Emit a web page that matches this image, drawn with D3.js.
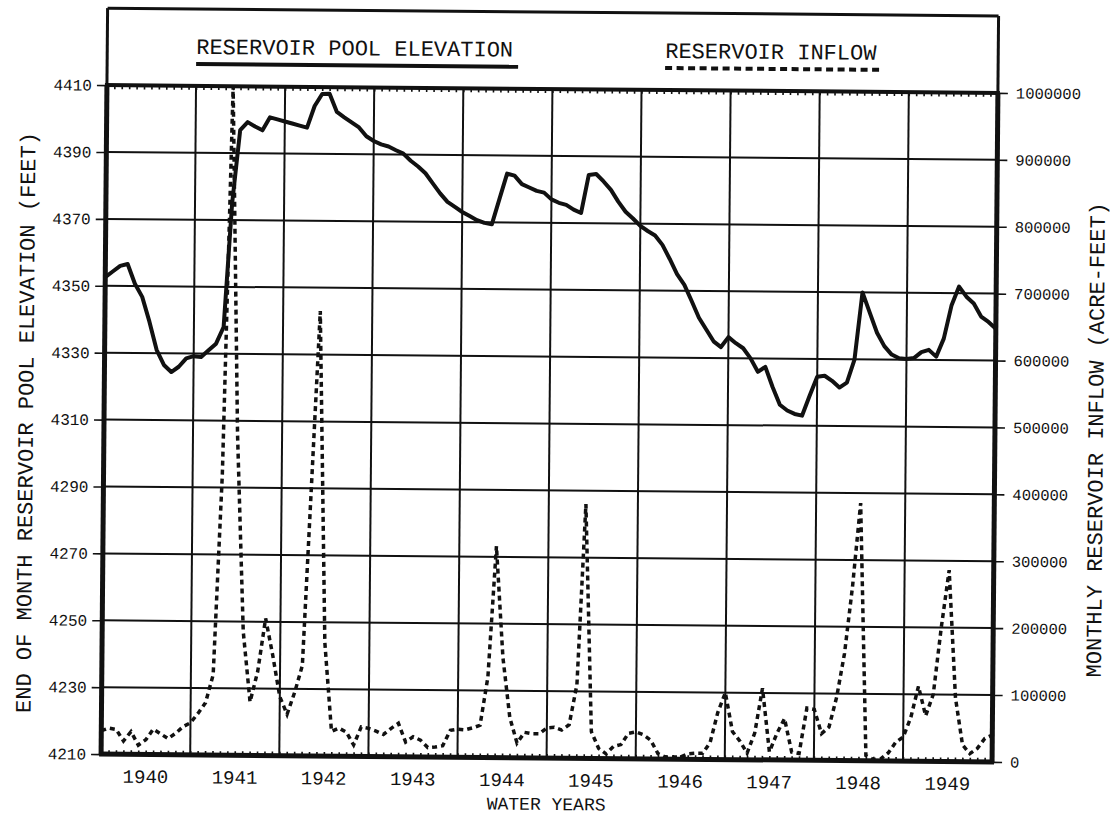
<!DOCTYPE html>
<html>
<head>
<meta charset="utf-8">
<script src="https://cdn.jsdelivr.net/npm/d3@7"></script>
<style>
  html, body { margin: 0; padding: 0; background: #fff; }
  svg { display: block; }
  text { font-family: "Liberation Mono", "DejaVu Sans Mono", monospace; fill: #111; }
</style>
</head>
<body>
<svg id="chart" width="1114" height="830"></svg>
<script>
// Water years shown along the bottom axis (Oct–Sep)
const waterYears = ["1940", "1941", "1942", "1943", "1944", "1945", "1946", "1947", "1948", "1949"];

// Left axis: end-of-month pool elevation (feet)
const elevTicks = [4210, 4230, 4250, 4270, 4290, 4310, 4330, 4350, 4370, 4390, 4410];

// Right axis: monthly inflow (acre-feet)
const inflowTicks = [0, 100000, 200000, 300000, 400000, 500000, 600000, 700000, 800000, 900000, 1000000];

// End-of-month reservoir pool elevation, month 0 = start of WY 1940 .. month 120 = end of WY 1949
const poolElevation = [
  4352.6, 4354.3, 4356.0, 4356.6, 4350.7, 4346.8, 4339.4, 4331.0, 4326.5, 4324.4, 4326.0, 4328.5,
  4329.2, 4329.0, 4331.0, 4333.0, 4338.0, 4375.0, 4396.9, 4399.3, 4398.0, 4396.9, 4400.8, 4400.2,
  4399.6, 4399.0, 4398.4, 4397.8, 4404.3, 4407.9, 4408.0, 4402.6, 4401.0, 4399.5, 4398.0, 4395.4,
  4394.0, 4393.0, 4392.4, 4391.3, 4390.3, 4388.2, 4386.5, 4384.5, 4381.5, 4378.5, 4376.0, 4374.5,
  4373.0, 4371.8, 4370.6, 4369.8, 4369.4, 4377.0, 4384.6, 4384.0, 4381.5, 4380.5, 4379.5, 4379.0,
  4377.0, 4376.0, 4375.4, 4374.0, 4373.0, 4384.4, 4384.7, 4382.5, 4380.0, 4376.5, 4373.5, 4371.5,
  4369.3, 4367.8, 4366.5, 4363.7, 4359.5, 4355.0, 4351.8, 4347.0, 4342.0, 4338.5, 4335.0, 4333.3,
  4336.3, 4334.5, 4333.0, 4330.0, 4326.0, 4327.5, 4321.5, 4316.2, 4314.5, 4313.5, 4313.0, 4319.0,
  4324.7, 4325.0, 4323.5, 4321.5, 4323.0, 4329.9, 4350.0, 4344.0, 4338.0, 4334.0, 4331.5, 4330.4,
  4330.2, 4330.5, 4332.3, 4333.0, 4331.0, 4336.4, 4346.3, 4352.0, 4349.0, 4347.0, 4343.1, 4341.5,
  4339.5
];

// Monthly reservoir inflow (acre-feet), same month positions
const reservoirInflow = [
   35000,  39000,  37000,  20000,  34000,  14000,  22000,  38000,  31000,  24000,  32000,  42000,
   48000,  62000,  78000, 120000, 420000, 1000000, 480000, 185000,  80000, 126000, 205000, 150000,
   88000,  62000,  95000, 135000, 400000, 665000, 170000,  37000,  42000,  36000,  17000,  44000,
   42000,  38000,  33000,  42000,  50000,  22000,  30000,  25000,  14000,  15000,  17000,  40000,
   42000,  41000,  44000,  48000, 120000, 316000, 150000,  60000,  22000,  38000,  36000,  36000,
   45000,  46000,  42000,  50000, 110000, 380000,  40000,  15000,   7000,  18000,  21000,  38000,
   40000,  36000,  28000,   8000,   3000,   3000,   3000,   8000,   9000,   9000,  25000,  70000,
  100000,  42000,  28000,  10000,  40000, 107000,  12000,  40000,  62000,  12000,  10000,  78000,
   76000,  40000,  50000,  95000, 160000, 260000, 385000,   8000,   2000,   3000,  12000,  28000,
   36000,  65000, 112000,  68000, 100000, 200000, 286000,  95000,  25000,  12000,  20000,  35000,
   40000
];

const W = 1114, H = 830;
const X0 = 104, X1 = 995, Y0 = 89, Y1 = 758, BOX_TOP = 12;
const INK = "#111";
const FONT = "Liberation Mono, DejaVu Sans Mono, monospace";

const svg = d3.select("#chart");
svg.append("rect").attr("width", W).attr("height", H).attr("fill", "#fff");

// the whole sheet sits at a slight tilt
const g = svg.append("g").attr("transform", "rotate(0.5, 549, 423)");

const x = d3.scaleLinear().domain([0, 120]).range([X0, X1]);
const xYear = d3.scaleBand().domain(waterYears).range([X0, X1]);
const yElev = d3.scaleLinear().domain([4210, 4410]).range([Y1, Y0]);
const yFlow = d3.scaleLinear().domain([0, 1000000]).range([Y1, Y0]);

// grid
g.append("g").selectAll("line")
  .data(elevTicks.slice(1, -1)).join("line")
  .attr("x1", X0).attr("x2", X1)
  .attr("y1", d => yElev(d)).attr("y2", d => yElev(d))
  .attr("stroke", INK).attr("stroke-width", 2);

g.append("g").selectAll("line")
  .data(waterYears.slice(1)).join("line")
  .attr("x1", d => xYear(d)).attr("x2", d => xYear(d))
  .attr("y1", Y0).attr("y2", Y1)
  .attr("stroke", INK).attr("stroke-width", 2);

// monthly minor ticks along the top and bottom borders
const months = d3.range(1, 120);
const topTicks = g.append("g").attr("transform", `translate(0,${Y0})`)
  .call(d3.axisBottom(x).tickValues(months).tickSize(4).tickFormat(""));
const botTicks = g.append("g").attr("transform", `translate(0,${Y1})`)
  .call(d3.axisTop(x).tickValues(months).tickSize(4).tickFormat(""));
[topTicks, botTicks].forEach(a => {
  a.select(".domain").remove();
  a.selectAll("line").attr("stroke", INK).attr("stroke-width", 1.6);
});

// left axis
const leftAxis = g.append("g").attr("transform", `translate(${X0},0)`)
  .call(d3.axisLeft(yElev).tickValues(elevTicks).tickSize(10).tickPadding(5).tickFormat(d3.format("d")));
leftAxis.select(".domain").remove();
leftAxis.selectAll("line").attr("stroke", INK).attr("stroke-width", 1.6);
leftAxis.selectAll("text").attr("font-size", 16).attr("fill", INK).attr("font-family", FONT);

// right axis
const rightAxis = g.append("g").attr("transform", `translate(${X1},0)`)
  .call(d3.axisRight(yFlow).tickValues(inflowTicks).tickSize(10).tickPadding(8).tickFormat(d3.format("d")));
rightAxis.select(".domain").remove();
rightAxis.selectAll("line").attr("stroke", INK).attr("stroke-width", 1.6);
rightAxis.selectAll("text").attr("font-size", 15.5).attr("fill", INK).attr("font-family", FONT);

// year labels
const bottomAxis = g.append("g").attr("transform", `translate(0,${Y1})`)
  .call(d3.axisBottom(xYear).tickSize(0).tickPadding(15));
bottomAxis.select(".domain").remove();
bottomAxis.selectAll("text").attr("font-size", 19).attr("fill", INK).attr("font-family", FONT);

// data lines, clipped to the plot area
svg.append("defs").append("clipPath").attr("id", "plot-clip")
  .append("rect").attr("x", X0).attr("y", Y0).attr("width", X1 - X0).attr("height", Y1 - Y0);
const plot = g.append("g").attr("clip-path", "url(#plot-clip)");

const flowLine = d3.line().x((d, i) => x(i)).y(d => yFlow(d));
plot.append("path").datum(reservoirInflow)
  .attr("d", flowLine).attr("fill", "none")
  .attr("stroke", INK).attr("stroke-width", 3.5)
  .attr("stroke-dasharray", "5,4");

const elevLine = d3.line().x((d, i) => x(i)).y(d => yElev(d));
plot.append("path").datum(poolElevation)
  .attr("d", elevLine).attr("fill", "none")
  .attr("stroke", INK).attr("stroke-width", 4)
  .attr("stroke-linejoin", "round");

// frame: legend box above, heavy border around the plot
const frame = g.append("g").attr("stroke", INK).attr("fill", "none");
frame.append("line").attr("x1", X0).attr("x2", X1).attr("y1", BOX_TOP).attr("y2", BOX_TOP).attr("stroke-width", 3);
frame.append("line").attr("x1", X0).attr("x2", X0).attr("y1", BOX_TOP).attr("y2", Y0).attr("stroke-width", 3);
frame.append("line").attr("x1", X1).attr("x2", X1).attr("y1", BOX_TOP).attr("y2", Y0).attr("stroke-width", 3);
frame.append("line").attr("x1", X0 - 2).attr("x2", X1 + 2).attr("y1", Y0).attr("y2", Y0).attr("stroke-width", 4);
frame.append("line").attr("x1", X0 - 2).attr("x2", X1 + 2).attr("y1", Y1).attr("y2", Y1).attr("stroke-width", 5);
frame.append("line").attr("x1", X0).attr("x2", X0).attr("y1", Y0).attr("y2", Y1).attr("stroke-width", 5);
frame.append("line").attr("x1", X1).attr("x2", X1).attr("y1", Y0).attr("y2", Y1).attr("stroke-width", 5);

// legend
const legend = g.append("g");
legend.append("text").attr("x", 193).attr("y", 57).attr("font-size", 22).text("RESERVOIR POOL ELEVATION");
legend.append("line").attr("x1", 193).attr("x2", 515).attr("y1", 67).attr("y2", 67)
  .attr("stroke", INK).attr("stroke-width", 4);
legend.append("text").attr("x", 662).attr("y", 57).attr("font-size", 22).text("RESERVOIR INFLOW");
legend.append("line").attr("x1", 662).attr("x2", 880).attr("y1", 67).attr("y2", 67)
  .attr("stroke", INK).attr("stroke-width", 4).attr("stroke-dasharray", "7,4.5");

// axis titles
g.append("text").attr("transform", "translate(33,427) rotate(-90)")
  .attr("text-anchor", "middle").attr("font-size", 22)
  .text("END OF MONTH RESERVOIR POOL ELEVATION (FEET)");
g.append("text").attr("transform", "translate(1103,435) rotate(-90)")
  .attr("text-anchor", "middle").attr("font-size", 22)
  .text("MONTHLY RESERVOIR INFLOW (ACRE-FEET)");
g.append("text").attr("x", (X0 + X1) / 2).attr("y", 810)
  .attr("text-anchor", "middle").attr("font-size", 18)
  .text("WATER YEARS");
</script>
</body>
</html>
